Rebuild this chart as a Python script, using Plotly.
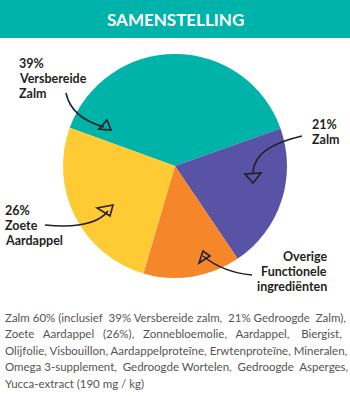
import plotly.graph_objects as go

# ---- data ----
slice_names = ["Versbereide Zalm", "Zalm", "Overige Functionele ingrediënten", "Zoete Aardappel"]
slice_values = [39, 21, 14, 26]
slice_colors = ["#00B3A9", "#5853A4", "#F5862A", "#FFCB35"]
label_lines = [
    ["39%", "Versbereide", "Zalm"],
    ["21%", "Zalm"],
    ["Overige", "Functionele", "ingrediënten"],
    ["26%", "Zoete", "Aardappel"],
]
title_text = "SAMENSTELLING"
body_lines = [
    "Zalm 60% (inclusief 39% Versbereide zalm, 21% Gedroogde Zalm),",
    "Zoete Aardappel (26%), Zonnebloemolie, Aardappel, Biergist,",
    "Olijfolie, Visbouillon, Aardappelproteïne, Erwtenproteïne, Mineralen,",
    "Omega 3-supplement, Gedroogde Wortelen, Gedroogde Asperges,",
    "Yucca-extract (190 mg / kg)",
]
# extra non-breaking spaces used to approximate justified text
body_extra_spaces = [3, 11, 0, 3, 0]

W, H = 350, 396
DARK = "#231F20"
NBSP = "\u00a0"


def justify(line, extra):
    words = line.split(" ")
    gaps = len(words) - 1
    if extra <= 0 or gaps <= 0:
        return line
    out = words[0]
    for i, w in enumerate(words[1:]):
        n = extra * (i + 1) // gaps - extra * i // gaps
        out += " " + NBSP * n + w
    return out


fig = go.Figure()
fig.add_trace(go.Scatter(x=[], y=[], hoverinfo="skip", showlegend=False))
fig.add_trace(go.Pie(
    labels=slice_names, values=slice_values, sort=False,
    direction="clockwise", rotation=-70,
    marker=dict(colors=slice_colors, line=dict(width=0)),
    textinfo="none", hoverinfo="label+percent", showlegend=False,
    domain=dict(x=[63 / W, 287 / W], y=[1 - 278 / H, 1 - 54 / H]),
))

shapes = [dict(type="rect", xref="x", yref="y", x0=0, x1=350, y0=0, y1=38,
               fillcolor="#00B3AA", line=dict(width=0), layer="below")]

arrow_paths = [
    "M 66 93 C 70 112, 86 122, 104 127",
    "M 99 129 L 107 120 L 111 130 Z",
    "M 302 136 C 276 142, 254 152, 253 173",
    "M 245 174 L 261 173 L 253 183 Z",
    "M 45 225 C 76 228, 98 224, 108 211",
    "M 97 208 L 113 205 L 110 216 Z",
    "M 252 275 C 230 273, 214 265, 203 256",
    "M 199 263 L 203 251 L 210 256 Z",
]
for p in arrow_paths:
    shapes.append(dict(type="path", xref="x", yref="y", path=p,
                       line=dict(color=DARK, width=1.6)))

annotations = [dict(x=175, y=19.5, xref="x", yref="y", text="<b>" + title_text + "</b>",
                    showarrow=False, font=dict(family="Lato", size=17, color="white"))]

label_pos = [
    (17, 63, "left"),
    (310, 124, "left"),
    (329, 256, "right"),
    (3, 210, "left"),
]
for lines, (lx, ly, al) in zip(label_lines, label_pos):
    for i, t in enumerate(lines):
        annotations.append(dict(x=lx, y=ly + i * 15, xref="x", yref="y",
                                text="<b>" + t + "</b>", showarrow=False,
                                xanchor=al, yanchor="middle",
                                font=dict(family="Lato", size=12.5, color=DARK)))

for i, (t, ex) in enumerate(zip(body_lines, body_extra_spaces)):
    annotations.append(dict(x=3, y=317 + i * 16.5, xref="x", yref="y", text=justify(t, ex),
                            showarrow=False, xanchor="left", yanchor="middle",
                            font=dict(family="Lato", size=11.5, color="#555555")))

fig.update_layout(
    width=W, height=H, margin=dict(l=0, r=0, t=0, b=0),
    paper_bgcolor="white", plot_bgcolor="white",
    xaxis=dict(range=[0, W], visible=False, domain=[0, 1], fixedrange=True),
    yaxis=dict(range=[H, 0], visible=False, domain=[0, 1], fixedrange=True),
    shapes=shapes, annotations=annotations,
)
fig.write_html("out.html")
